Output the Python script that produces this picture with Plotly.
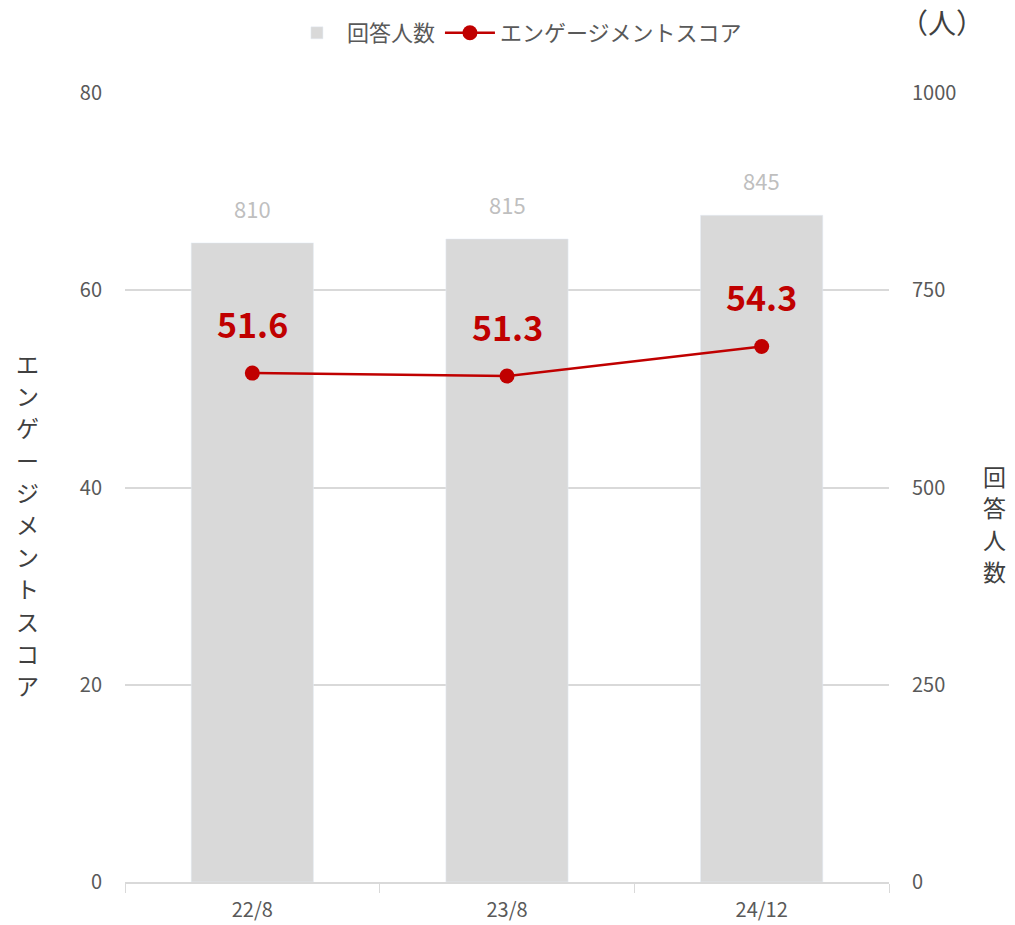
import plotly.graph_objects as go

categories = ["22/8", "23/8", "24/12"]
respondents = [810, 815, 845]
scores = [51.6, 51.3, 54.3]
left_ticks = [0, 20, 40, 60, 80]
right_ticks = [0, 250, 500, 750, 1000]
left_title = "エンゲージメントスコア"
right_title = "回答人数"

FONT = "Noto Sans CJK JP"
GRAY_TXT = "#595959"
RED = "#C00000"
BAR = "#D9D9D9"

fig = go.Figure()
fig.add_trace(go.Bar(
    x=categories, y=respondents, name="回答人数", yaxis="y",
    marker_color=BAR, width=0.48, hoverinfo="skip",
))
fig.add_trace(go.Scatter(
    x=categories, y=scores, name="エンゲージメントスコア", yaxis="y2",
    mode="lines+markers", line=dict(color=RED, width=2.5),
    marker=dict(color=RED, size=15),
))

for c, v in zip(categories, respondents):
    fig.add_annotation(x=c, y=v, xref="x", yref="y", text=str(v),
                       showarrow=False, yshift=35,
                       font=dict(family=FONT, size=22, color="#BFBFBF"))
for c, v in zip(categories, scores):
    fig.add_annotation(x=c, y=v, xref="x", yref="y2", text=f"{v:.1f}",
                       showarrow=False, yshift=50,
                       font=dict(family=FONT, size=34, color=RED, weight="bold"))

# vertical (stacked) axis titles, one character per line
PLOT_TOP, PLOT_H = 93, 789
def py(pix):
    return 1 - (pix - PLOT_TOP) / PLOT_H

for i, ch in enumerate(left_title):
    fig.add_annotation(x=-0.127, y=py(363 + i * 32.2), xref="paper", yref="paper",
                       text=ch, showarrow=False, xanchor="center", yanchor="middle",
                       font=dict(family=FONT, size=23, color="#404040"))
for i, ch in enumerate(right_title):
    fig.add_annotation(x=1.138, y=py(476 + i * 31.5), xref="paper", yref="paper",
                       text=ch, showarrow=False, xanchor="center", yanchor="middle",
                       font=dict(family=FONT, size=23, color="#404040"))
fig.add_annotation(x=1.012, y=py(22), xref="paper", yref="paper", text="（人）",
                   showarrow=False, xanchor="left", yanchor="middle",
                   font=dict(family=FONT, size=28, color="#404040"))

fig.update_layout(
    width=1015, height=925,
    margin=dict(l=125, r=126, t=93, b=43),
    paper_bgcolor="white", plot_bgcolor="white",
    font=dict(family=FONT, color=GRAY_TXT),
    showlegend=True,
    legend=dict(orientation="h", x=0.513, xanchor="center", y=py(33), yanchor="middle",
                font=dict(family=FONT, size=22, color=GRAY_TXT),
                itemwidth=50, traceorder="normal"),
    xaxis=dict(type="category", showline=True, linecolor="#D9D9D9", linewidth=1.5,
               ticks="outside", tickson="boundaries", ticklen=9, tickcolor="#D9D9D9",
               ticklabelstandoff=9, automargin=False,
               tickfont=dict(family=FONT, size=20, color=GRAY_TXT), showgrid=False),
    yaxis=dict(range=[0, 1000], tickvals=right_ticks, side="right",
               showgrid=True, gridcolor="#D9D9D9", gridwidth=1.5,
               zeroline=False, showline=False, ticks="",
               ticklabelstandoff=22, automargin=False,
               tickfont=dict(family=FONT, size=20, color=GRAY_TXT)),
    yaxis2=dict(range=[0, 80], tickvals=left_ticks, overlaying="y", side="left",
                showgrid=False, zeroline=False, showline=False, ticks="",
                ticklabelstandoff=22, automargin=False,
                tickfont=dict(family=FONT, size=20, color=GRAY_TXT)),
)

fig.write_html("out.html")
